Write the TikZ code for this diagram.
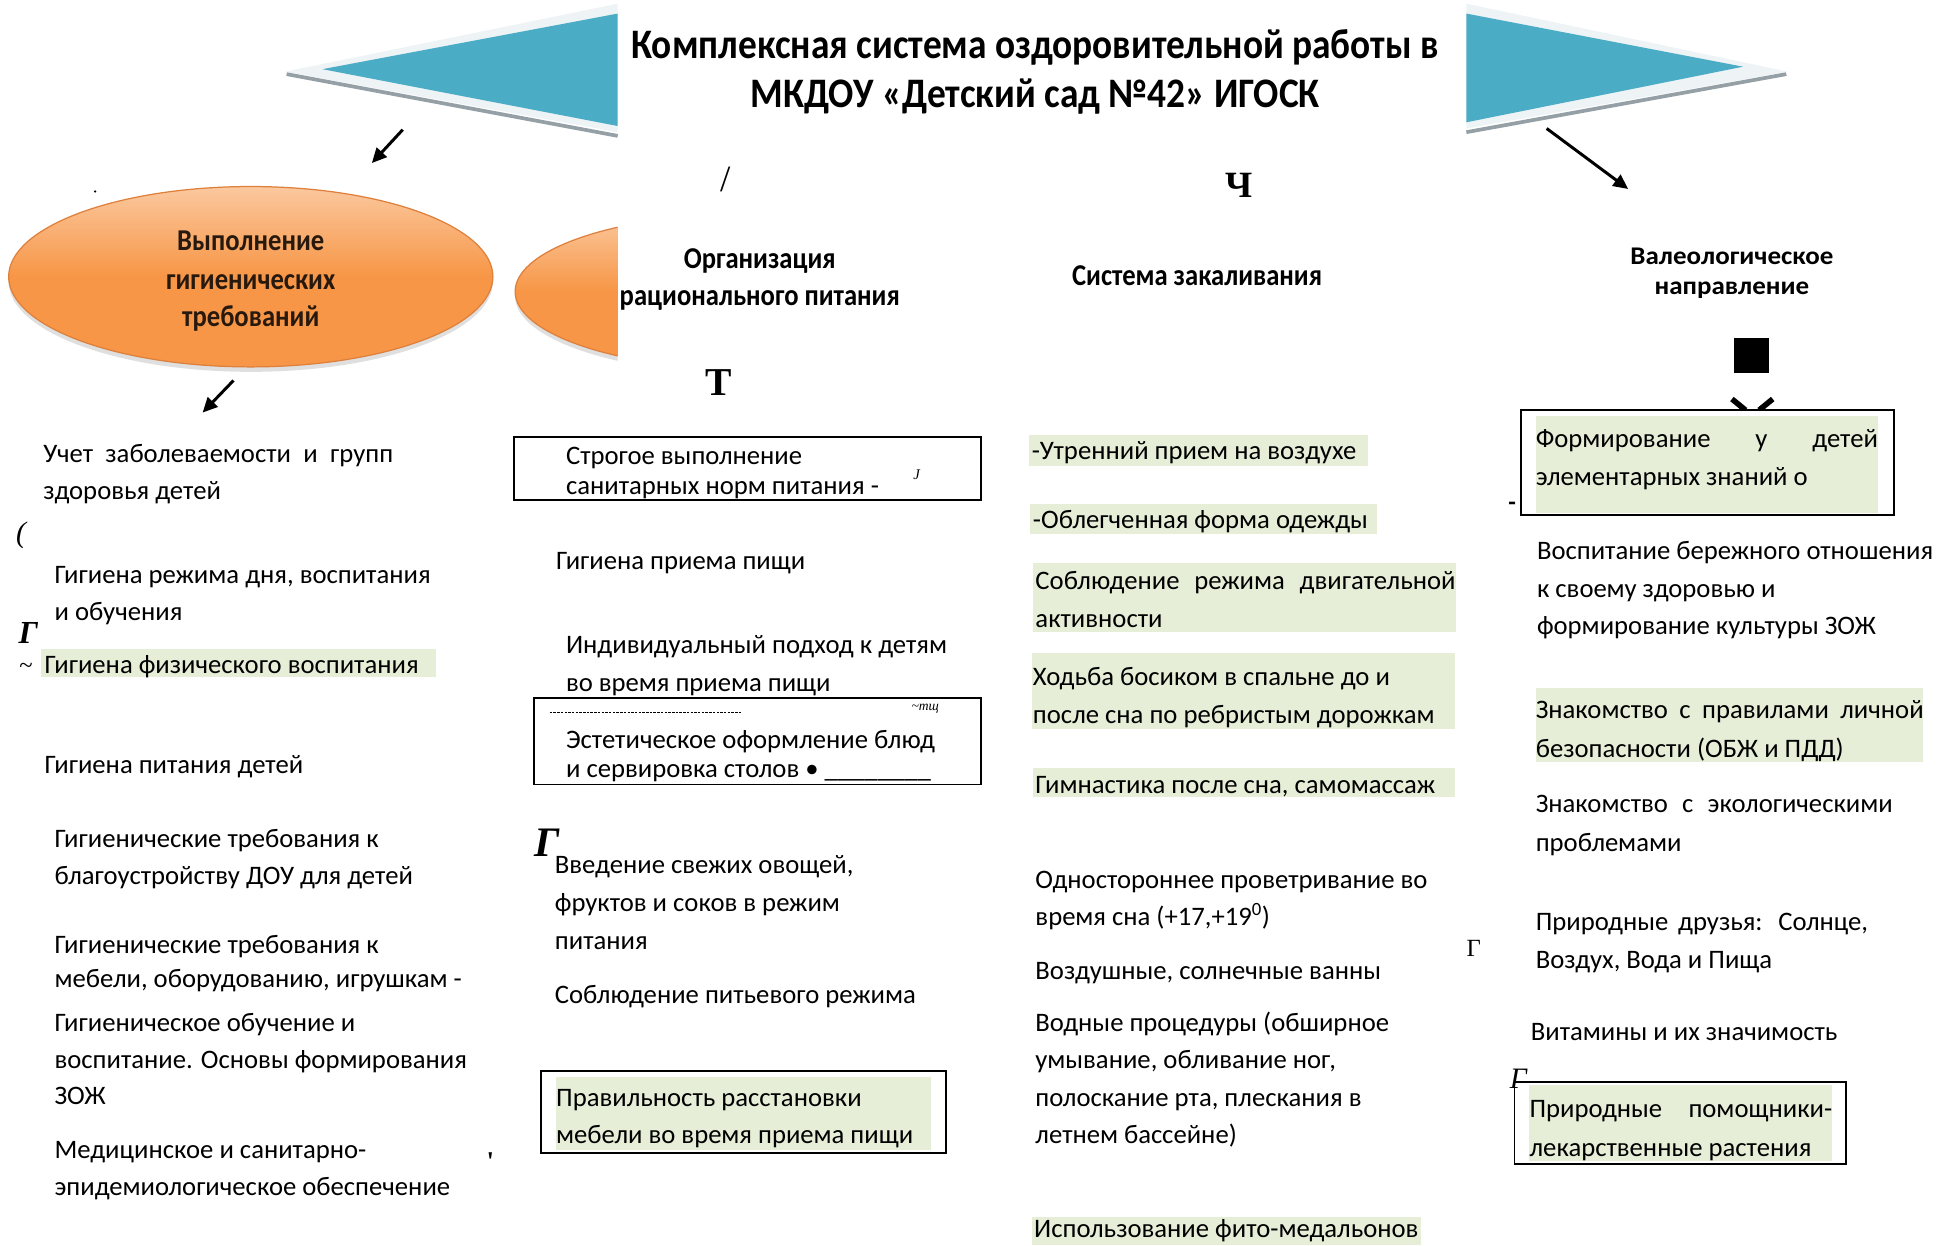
\documentclass[tikz,border=0pt]{standalone}
\usepackage{fontspec}
\setmainfont{Carlito}
\newfontfamily\titlefont[FakeStretch=0.89]{Carlito}
\newfontfamily\condfont[FakeStretch=0.88]{Carlito}
\newfontfamily\widefont[FakeStretch=1.06]{Carlito}
\newfontfamily\serifz{Liberation Serif}
\usetikzlibrary{arrows.meta}
\definecolor{aqua}{RGB}{75,172,198}
\definecolor{aqualight}{RGB}{238,243,246}
\definecolor{shadowgray}{RGB}{148,160,166}
\definecolor{hl}{RGB}{230,238,216}
\definecolor{orlight}{RGB}{251,200,158}
\definecolor{ormain}{RGB}{247,150,70}
\definecolor{ordark}{RGB}{222,128,60}
\definecolor{ortext}{RGB}{40,25,15}
\newcommand\mytx[4]{\node[txt] (#1) at (#2,{#3+8}) {#4};}
\newcommand\mytw[4]{\node[wtxt] (#1) at (#2,{#3+8}) {#4};}
\newcommand\myjust[2]{\makebox[#1pt][s]{#2}}
\begin{document}
\begin{tikzpicture}[x=1pt,y=-1pt,
  txt/.style={anchor=base west,inner sep=0pt,font=\fontsize{21.6}{26}\selectfont},
  wtxt/.style={anchor=base west,inner sep=0pt,font=\fontsize{21.6}{26}\selectfont},
  hdr/.style={anchor=base,inner sep=0pt,font=\condfont\bfseries\fontsize{24.5}{28}\selectfont},
  ttl/.style={anchor=base,inner sep=0pt,font=\titlefont\bfseries\fontsize{34}{40}\selectfont},
  elltxt/.style={anchor=base,inner sep=0pt,text=ortext,font=\condfont\bfseries\fontsize{24.5}{28}\selectfont},
  stray/.style={inner sep=0pt,font=\serifz\fontsize{24}{28}\selectfont},
  frame/.style={draw=black,line width=1.5pt},
  arr/.style={line width=2.4pt,-{Triangle[length=12pt,width=11pt]}},
  oval/.style={top color=orlight,bottom color=ormain,middle color=ormain,draw=ordark,line width=1pt}
]
\useasboundingbox (0,0) rectangle (1568,1008);
\fill[white] (0,0) rectangle (1568,1008);

% left triangle
\fill[aqualight] (231,58) -- (500,3) -- (500,107) -- cycle;
\draw[shadowgray,line width=3pt] (232,60) -- (500,110);
\fill[aqua] (261,56) -- (500,11) -- (500,102) -- cycle;
% right triangle
\fill[aqualight] (1187,3) -- (1447,58) -- (1187,104) -- cycle;
\draw[shadowgray,line width=3pt] (1187,107) -- (1446,60);
\fill[aqua] (1187,11) -- (1411,54) -- (1187,99) -- cycle;

% title
\node[ttl] (title1) at (838,47) {Комплексная система оздоровительной работы в};
\node[ttl] (title2) at (838,87) {МКДОУ «Детский сад №42» ИГОСК};

% ellipses
\fill[gray!25] (203,228) ellipse [x radius=196, y radius=73];
\shade[oval] (203,224) ellipse [x radius=196, y radius=73];
\node[elltxt] (e1a) at (203,203) {Выполнение};
\node[elltxt] (e1b) at (203,234) {гигиенических};
\node[elltxt] (e1c) at (203,264) {требований};
\begin{scope}
\clip (0,150) rectangle (500,320);
\fill[gray!25] (607,240) ellipse [x radius=190, y radius=63];
\shade[oval] (607,236) ellipse [x radius=190, y radius=63];
\end{scope}
\node[inner sep=0pt,circle,fill=black,minimum size=2pt] (dot) at (77,155) {};

% arrows
\coordinate (a1s) at (326,105); \coordinate (a1e) at (301,132);
\coordinate (a2s) at (189,308); \coordinate (a2e) at (164,334);
\coordinate (a3s) at (1252,104); \coordinate (a3e) at (1318,153);
\draw[arr] (a1s) -- (a1e);
\draw[arr] (a2s) -- (a2e);
\draw[arr] (a3s) -- (a3e);

% headers
\node[hdr] (h2a) at (615,217) {Организация};
\node[hdr] (h2b) at (615,247) {рационального питания};
\node[hdr] (h3) at (969,231) {Система закаливания};
\node[hdr,font=\widefont\bfseries\fontsize{20.6}{24}\selectfont] (h4a) at (1402,214) {Валеологическое};
\node[hdr,font=\widefont\bfseries\fontsize{20.6}{24}\selectfont] (h4b) at (1402,238) {направление};

% stray marks
\node[stray,font=\serifz\fontsize{30}{34}\selectfont] (s1) at (587,145) {/};
\node[stray,font=\serifz\bfseries\fontsize{30}{34}\selectfont] (s2) at (1003,150) {Ч};
\node[stray,font=\serifz\bfseries\fontsize{32}{36}\selectfont] (s3) at (582,310) {Т};
\fill (1404,274) rectangle (1432,302);
\draw[line width=4.5pt] (1402,323) -- (1413,332) (1435,323) -- (1424,332);
\node[stray,font=\serifz\itshape\fontsize{24}{28}\selectfont] (s5) at (17,433) {(};
\node[stray,font=\serifz\bfseries\itshape\fontsize{26}{30}\selectfont] (s6) at (23,512) {Г};
\node[stray,font=\serifz\fontsize{20}{24}\selectfont] (s7) at (21,541) {\textasciitilde};
\node[stray,font=\serifz\bfseries\itshape\fontsize{34}{38}\selectfont] (s8) at (443,682) {Г};
\node[stray,font=\serifz\bfseries\fontsize{22}{26}\selectfont] (s9) at (397,940) {'};
\node[stray,font=\serifz\fontsize{20}{24}\selectfont] (s10) at (1193,768) {Г};
\node[stray,font=\serifz\itshape\fontsize{24}{28}\selectfont] (s11) at (1229,873) {Г};
\node[stray,font=\bfseries\fontsize{20}{24}\selectfont] (s12) at (1224,410) {-};
\node[stray,font=\serifz\itshape\fontsize{12}{14}\selectfont] (s13) at (742,384) {J};
\node[stray,font=\serifz\itshape\fontsize{11}{13}\selectfont] (s14) at (749,574) {\textasciitilde тщ};

% column 1
\mytx{c1a}{35}{366}{\myjust{283}{Учет заболеваемости и групп}}
\mytx{c1b}{35}{396}{здоровья детей}
\mytx{c1c}{44}{464}{Гигиена режима дня, воспитания}
\mytx{c1d}{44}{494}{и обучения}
\fill[hl] (33,525) rectangle (353,548);
\mytx{c1e}{36}{537}{Гигиена физического воспитания}
\mytx{c1f}{36}{618}{Гигиена питания детей}
\mytx{c1g}{44}{678}{Гигиенические требования к}
\mytx{c1h}{44}{708}{благоустройству ДОУ для детей}
\mytx{c1i}{44}{764}{Гигиенические требования к}
\mytx{c1j}{44}{791}{мебели, оборудованию, игрушкам -}
\mytx{c1k}{44}{827}{Гигиеническое обучение и}
\mytx{c1l}{44}{857}{воспитание. Основы формирования}
\mytx{c1m}{44}{886}{ЗОЖ}
\mytx{c1n}{44}{930}{Медицинское и санитарно-}
\mytx{c1o}{44}{960}{эпидемиологическое обеспечение}

% column 2
\draw[frame] (416,354) rectangle (794,405);
\mytx{c2a}{458}{368}{Строгое выполнение}
\mytx{c2b}{458}{392}{санитарных норм питания -}
\mytx{c2c}{450}{453}{Гигиена приема пищи}
\mytx{c2d}{458}{521}{Индивидуальный подход к детям}
\mytx{c2e}{458}{552}{во время приема пищи}
\draw[frame] (432,565) rectangle (794,635);
\draw[line width=0.5pt,dash pattern=on 2pt off 1pt] (445,577) -- (600,577);
\mytx{c2f}{458}{598}{Эстетическое оформление блюд}
\mytx{c2g}{458}{621}{и сервировка столов • \_\_\_\_\_\_\_\_}
\mytx{c2h}{449}{699}{Введение свежих овощей,}
\mytx{c2i}{449}{730}{фруктов и соков в режим}
\mytx{c2j}{449}{761}{питания}
\mytx{c2k}{449}{804}{Соблюдение питьевого режима}
\draw[frame] (438,867) rectangle (766,933);
\fill[hl] (450,872) rectangle (754,931);
\mytx{c2l}{450}{888}{Правильность расстановки}
\mytx{c2m}{450}{918}{мебели во время приема пищи}

% column 3
\fill[hl] (833,352) rectangle (1107,377);
\mytx{c3a}{835}{364}{-Утренний прием на воздухе}
\fill[hl] (834,408) rectangle (1115,432);
\mytx{c3b}{836}{420}{-Облегченная форма одежды}
\fill[hl] (836,456) rectangle (1179,512);
\mytx{c3c}{838}{469}{\myjust{340}{Соблюдение режима двигательной}}
\mytx{c3d}{838}{500}{активности}
\fill[hl] (835,529) rectangle (1178,590);
\mytx{c3e}{836}{547}{Ходьба босиком в спальне до и}
\mytx{c3f}{836}{578}{после сна по ребристым дорожкам}
\fill[hl] (836,622) rectangle (1178,645);
\mytx{c3g}{838}{634}{Гимнастика после сна, самомассаж}
\mytx{c3h}{838}{711}{Одностороннее проветривание во}
\mytx{c3i}{838}{741}{время сна (+17,+19\textsuperscript{0})}
\mytx{c3j}{838}{785}{Воздушные, солнечные ванны}
\mytx{c3k}{838}{827}{Водные процедуры (обширное}
\mytx{c3l}{838}{857}{умывание, обливание ног,}
\mytx{c3m}{838}{888}{полоскание рта, плескания в}
\mytx{c3n}{838}{918}{летнем бассейне)}
\fill[hl] (835,985) rectangle (1150,1008);
\mytx{c3o}{837}{994}{Использование фито-медальонов}

% column 4
\draw[frame,fill=white] (1231,332) rectangle (1533,417);
\fill[hl] (1243,337) rectangle (1520,415);
\mytw{c4a}{1243}{354}{\myjust{277}{Формирование у детей}}
\mytw{c4b}{1243}{385}{элементарных знаний о}
\mytw{c4c}{1244}{445}{Воспитание бережного отношения}
\mytw{c4d}{1244}{476}{к своему здоровью и}
\mytw{c4e}{1244}{506}{формирование культуры ЗОЖ}
\fill[hl] (1243,557) rectangle (1557,617);
\mytw{c4f}{1243}{574}{\myjust{314}{Знакомство с правилами личной}}
\mytw{c4g}{1243}{605}{безопасности (ОБЖ и ПДД)}
\mytw{c4h}{1243}{650}{\myjust{289}{Знакомство с экологическими}}
\mytw{c4i}{1243}{681}{проблемами}
\mytw{c4j}{1243}{745}{\myjust{269}{Природные друзья: Солнце,}}
\mytw{c4k}{1243}{776}{Воздух, Вода и Пища}
\mytw{c4l}{1239}{834}{Витамины и их значимость}
\draw[frame] (1226,876) rectangle (1494,942);
\fill[hl] (1238,878) rectangle (1483,940);
\mytw{c4m}{1238}{897}{\myjust{245}{Природные помощники-}}
\mytw{c4n}{1238}{928}{лекарственные растения}
\end{tikzpicture}
\end{document}
